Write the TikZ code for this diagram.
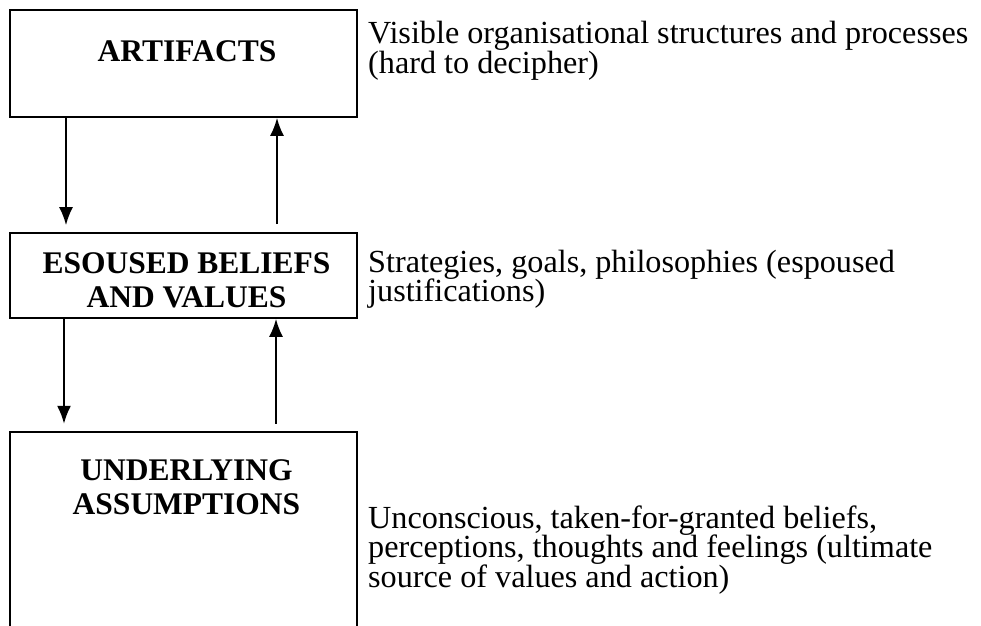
\documentclass[tikz,border=0pt]{standalone}
\usepackage{fontspec}
\setmainfont{Liberation Serif}
\usetikzlibrary{arrows.meta}
\setlength{\lineskiplimit}{-100pt}
\tikzset{
  boxframe/.style={draw=black, line width=1.6pt, inner sep=0pt},
  boxtitle/.style={font=\fontsize{31.5}{34}\selectfont\bfseries, align=center, inner sep=0pt, anchor=base},
  desc/.style={font=\fontsize{32.2}{29.5}\selectfont, align=left, inner sep=0pt, anchor=base west},
  arr/.style={line width=2pt, -{Latex[length=18pt,width=14pt]}},
}
\begin{document}
\begin{tikzpicture}[x=1pt,y=-1pt]
\clip (0,0) rectangle (981,625);
\fill[white] (0,0) rectangle (981,625);
% boxes
\node[boxframe, minimum width=347pt, minimum height=107pt] (art) at (183.5,63.5) {};
\node[boxframe, minimum width=347pt, minimum height=85pt] (esp) at (183.5,275.5) {};
\node[inner sep=0pt, minimum width=347pt, minimum height=220pt] (und) at (183.5,542) {};
\draw[line width=1.6pt] (und.south west) -- (und.north west) -- (und.north east) -- (und.south east);
% titles
\node[boxtitle] (artt) at (187,61) {ARTIFACTS};
\node[boxtitle] (espt) at (186.5,307) {ESOUSED BELIEFS\\AND VALUES};
\node[boxtitle] (undt) at (186.5,514) {UNDERLYING\\ASSUMPTIONS};
% descriptions
\node[desc] (artd) at (368,73) {Visible organisational structures and processes\\(hard to decipher)};
\node[desc] (espd) at (368,301.5) {Strategies, goals, philosophies (espoused\\justifications)};
\node[desc] (undd) at (368,587) {Unconscious, taken-for-granted beliefs,\\perceptions, thoughts and feelings (ultimate\\source of values and action)};
% arrows
\draw[arr, shorten >=7pt] ([xshift=-117.5pt]art.south) -- ([xshift=-117.5pt]esp.north);
\draw[arr, shorten <=8pt] ([xshift=93.5pt]esp.north) -- ([xshift=93.5pt]art.south);
\draw[arr, shorten >=8pt] ([xshift=-119.5pt]esp.south) -- ([xshift=-119.5pt]und.north);
\draw[arr, shorten <=8pt] ([xshift=92.5pt]und.north) -- ([xshift=92.5pt]esp.south);
\end{tikzpicture}
\end{document}
